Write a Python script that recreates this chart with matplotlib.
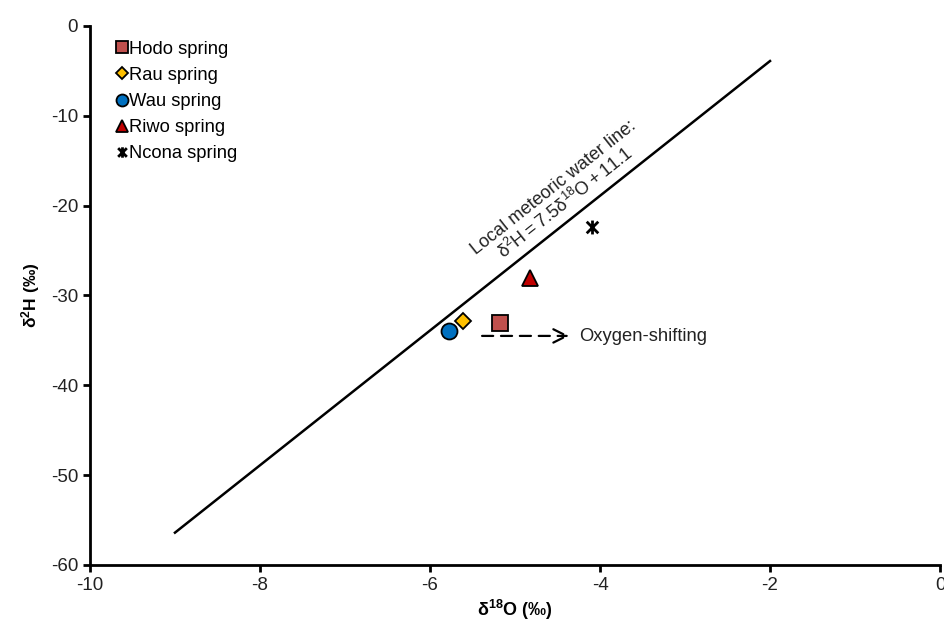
import numpy as np
import matplotlib
matplotlib.use('Agg')
import matplotlib.pyplot as plt
from matplotlib.path import Path

plt.rcParams['font.family'] = ['Liberation Sans', 'DejaVu Sans']
plt.rcParams['axes.unicode_minus'] = False

springs = ['Hodo spring', 'Rau spring', 'Wau spring', 'Riwo spring', 'Ncona spring']
d18o = [-5.18, -5.61, -5.78, -4.82, -4.09]
d2h = [-33.1, -32.8, -34.0, -28.0, -22.4]

# local meteoric water line
lmwl_slope = 7.5
lmwl_intercept = 11.1
lmwl_x = [-9.0, -2.0]

# Excel style star marker: X plus vertical bar
star = Path([(-1, -1), (1, 1), (-1, 1), (1, -1), (0, -1.2), (0, 1.2)],
            [Path.MOVETO, Path.LINETO, Path.MOVETO, Path.LINETO, Path.MOVETO, Path.LINETO])

styles = [
    dict(marker='s', color='#C0504D', ms=11),
    dict(marker='D', color='#FFC000', ms=8),
    dict(marker='o', color='#0070C0', ms=11.5),
    dict(marker='^', color='#C00000', ms=11),
    dict(marker=star, color='black', ms=10),
]

fig = plt.figure(figsize=(9.44, 6.23), dpi=100)
ax = fig.add_axes([0.0953, 0.0931, 0.9005, 0.8652])

lx = np.array(lmwl_x)
ax.plot(lx, lmwl_slope * lx + lmwl_intercept, color='black', lw=1.8, zorder=2)

for name, x, y, st in zip(springs, d18o, d2h, styles):
    if st['marker'] is star:
        ax.plot([x], [y], linestyle='none', marker=star, ms=st['ms'],
                mec='black', mew=2, label=name, zorder=4)
    else:
        ax.plot([x], [y], linestyle='none', marker=st['marker'], ms=st['ms'],
                mfc=st['color'], mec='black', mew=1.3, label=name, zorder=4)

# oxygen-shifting arrow
ax.annotate('', xy=(-4.33, -34.5), xytext=(-5.42, -34.5),
            arrowprops=dict(arrowstyle='->', color='black', lw=1.6,
                            linestyle=(0, (5, 3.5)), mutation_scale=24))
ax.text(-4.24, -34.6, 'Oxygen-shifting', fontsize=13.2, va='center', ha='left', color='#222222')

# line label
ax.text(-4.47, -18.9,
        'Local meteoric water line:\n$\\mathregular{\\delta^2H = 7.5\\delta^{18}O + 11.1}$',
        rotation=38.4, rotation_mode='anchor', ha='center', va='center',
        fontsize=13.1, linespacing=1.05, color='#222222')

ax.set_xlim(-10, 0)
ax.set_ylim(-60, 0)
ax.set_xticks(np.arange(-10, 1, 2))
ax.set_yticks(np.arange(-60, 1, 10))
ax.spines['top'].set_visible(False)
ax.spines['right'].set_visible(False)
ax.spines['left'].set_linewidth(2)
ax.spines['bottom'].set_linewidth(2)
ax.tick_params(direction='out', length=5, width=2, labelsize=13.5, colors='black',
               labelcolor='#222222')

ax.set_xlabel('$\\mathregular{\\delta^{18}O}$ (‰)', fontsize=13, fontweight='bold', labelpad=3)
ax.set_ylabel('$\\mathregular{\\delta^{2}H}$ (‰)', fontsize=12.5, fontweight='bold', labelpad=6)

leg = ax.legend(loc='upper left', bbox_to_anchor=(0.014, 1.0), frameon=False, fontsize=13.2,
                handlelength=0.6, handletextpad=0.1, labelspacing=0.5, borderpad=0.3,
                numpoints=1, markerscale=0.75)

fig.savefig('out.png', dpi=100)
